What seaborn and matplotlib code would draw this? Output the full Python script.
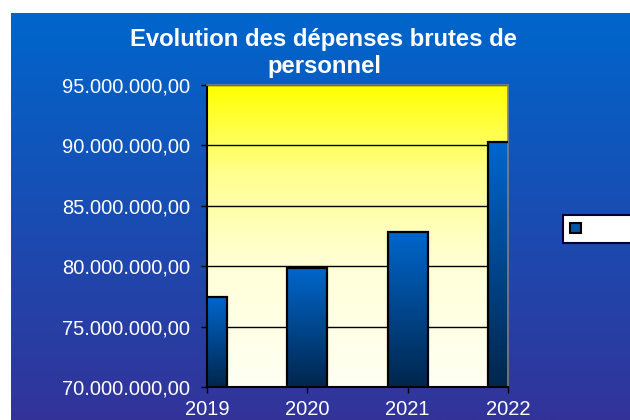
import numpy as np
import pandas as pd
import matplotlib
matplotlib.use("Agg")
import matplotlib.pyplot as plt
import seaborn as sns
from matplotlib.colors import LinearSegmentedColormap
from matplotlib.patches import Patch
from matplotlib.ticker import FuncFormatter

# data
years = ["2019", "2020", "2021", "2022"]
depenses = [77450000, 79850000, 82830000, 90280000]
y_ticks = [70e6, 75e6, 80e6, 85e6, 90e6, 95e6]
title_lines = ["Evolution des dépenses brutes de", "personnel"]

sns.set_style("white")
plt.rcParams["font.family"] = ["Liberation Sans", "DejaVu Sans"]

df = pd.DataFrame({"annee": years, "depenses": depenses})

fig = plt.figure(figsize=(6.3, 4.2), dpi=100)
fig.patch.set_facecolor("white")

# blue gradient background
bg = fig.add_axes([11 / 630, 0, 619 / 630, 407 / 420], zorder=-10)
bg_cmap = LinearSegmentedColormap.from_list("bg", ["#333399", "#0066cc"])
bg.imshow(np.linspace(0, 1, 256).reshape(-1, 1), cmap=bg_cmap, aspect="auto",
          origin="lower", extent=[0, 1, 0, 1])
bg.set_axis_off()

ax = fig.add_axes([207 / 630, 1 - 387 / 420, 301 / 630, 302 / 420])
sns.barplot(data=df, x="annee", y="depenses", width=0.4, ax=ax,
            facecolor="none", edgecolor="black", linewidth=1.6, zorder=3)

xmin, xmax = 0, len(years) - 1

# yellow plot-area gradient
pa_cmap = LinearSegmentedColormap.from_list(
    "pa", [(0, "#fffff4"), (0.4, "#ffffd8"), (0.7, "#ffff90"), (1, "#ffff00")])
ax.imshow(np.linspace(0, 1, 256).reshape(-1, 1), cmap=pa_cmap, aspect="auto",
          origin="lower", extent=[0, 1, 0, 1], transform=ax.transAxes, zorder=0)

# bar gradients, kept inside the plot area
bar_cmap = LinearSegmentedColormap.from_list("bar", ["#00264d", "#0066cc"])
for bar in ax.patches:
    x0, w, h = bar.get_x(), bar.get_width(), bar.get_height()
    ax.imshow(np.linspace(0, 1, 256).reshape(-1, 1), cmap=bar_cmap,
              aspect="auto", origin="lower",
              extent=[max(x0, xmin), min(x0 + w, xmax), y_ticks[0], h], zorder=2.5)

ax.set_xlim(xmin, xmax)
ax.set_ylim(y_ticks[0], y_ticks[-1])
ax.set_yticks(y_ticks)
ax.yaxis.set_major_formatter(FuncFormatter(
    lambda v, p: f"{v:,.2f}".replace(",", " ").replace(".", ",").replace(" ", ".")))

ax.grid(axis="y", color="black", linewidth=1)
for line in ax.get_ygridlines():
    line.set_zorder(1)

ax.set_xlabel("")
ax.set_ylabel("")
ax.tick_params(axis="both", colors="black", labelcolor="white", labelsize=14.5,
               direction="out", length=4.3, width=1, left=True, bottom=True)
ax.tick_params(axis="x", pad=5)
ax.tick_params(axis="y", pad=8)
for side in ["left", "bottom"]:
    ax.spines[side].set_color("black")
    ax.spines[side].set_linewidth(1.5)
for side in ["top", "right"]:
    ax.spines[side].set_color("#808080")
    ax.spines[side].set_linewidth(1.2)

# title, one text per line
for line, base in zip(title_lines, [46, 73]):
    fig.text(324 / 630, 1 - base / 420, line, ha="center", va="baseline",
             color="white", fontsize=17.2, fontweight="bold")

leg = fig.legend(handles=[Patch(facecolor="#0055aa", edgecolor="black", linewidth=1.5)],
                 labels=["            "], loc="center left",
                 bbox_to_anchor=(563 / 630, 1 - 229 / 420), fancybox=False,
                 framealpha=1, handlelength=0.8, handleheight=0.8,
                 borderpad=0.5, fontsize=10, borderaxespad=0)
leg.get_frame().set_edgecolor("#000033")
leg.get_frame().set_linewidth(1.5)

fig.savefig("out.png", dpi=100)
